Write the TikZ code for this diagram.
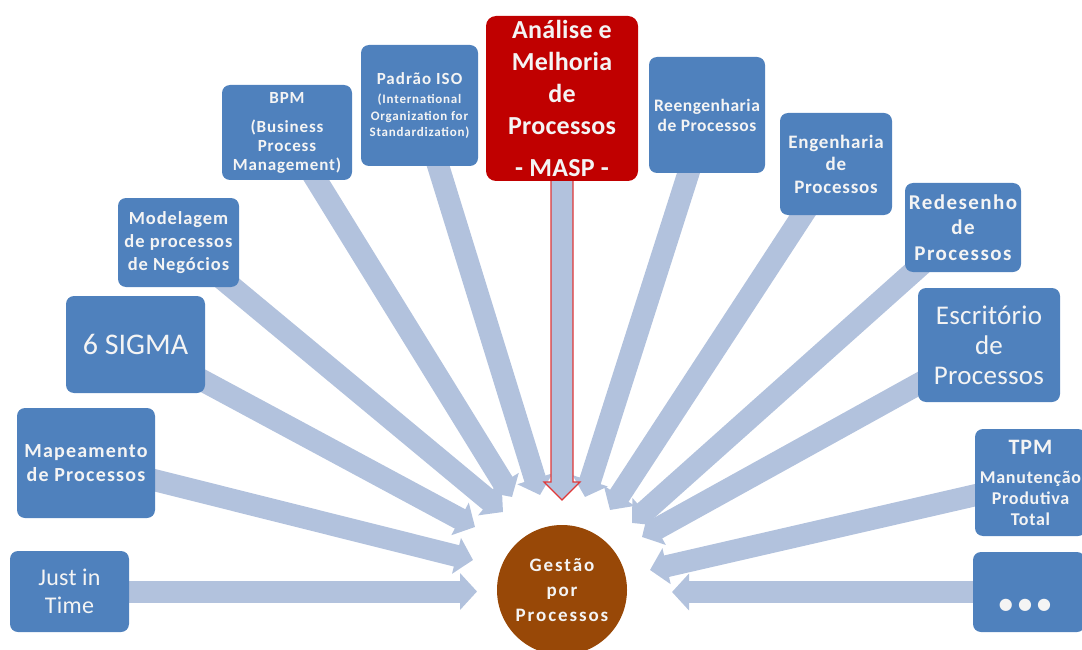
\documentclass[tikz,border=0pt]{standalone}
\usepackage{fontspec}
\setmainfont{Carlito}
\newfontfamily\dejavu{DejaVu Sans}
\usetikzlibrary{arrows.meta,calc}
\definecolor{boxblue}{HTML}{4F81BD}
\definecolor{arrowblue}{HTML}{B2C2DD}
\definecolor{maspred}{HTML}{C00000}
\definecolor{maspline}{HTML}{E03838}
\definecolor{gestbrown}{HTML}{984807}
\definecolor{txt}{HTML}{F4F4F4}
\pgfdeclarelayer{bg}
\pgfsetlayers{bg,main}
\begin{document}
\begin{tikzpicture}[x=1pt,y=-1pt,
  box/.style={fill=boxblue, rounded corners=8pt, text=txt, align=center, inner sep=1pt},
  redbox/.style={fill=maspred, rounded corners=10pt, text=txt, align=center, inner sep=1pt},
  fat/.style={arrowblue, line width=22pt, -{Triangle[length=17pt,width=36pt]}},
  fsz/.style n args={3}{font=\fontsize{#1}{#2}\selectfont\addfontfeature{LetterSpace=#3}},
  bfsz/.style n args={3}{font=\bfseries\fontsize{#1}{#2}\selectfont\addfontfeature{LetterSpace=#3}}
]
\useasboundingbox (0,0) rectangle (1082,650);

% boxes
\node[box, minimum width=119pt, minimum height=81pt, fsz={24}{28}{1}] (jit) at (69.5,591.5) {Just in\\Time};
\node[box, minimum width=138pt, minimum height=110pt, bfsz={20}{24}{6}] (map) at (86,463) {Mapeamento\\de Processos};
\node[box, minimum width=139pt, minimum height=97pt, fsz={30}{34}{0}] (sigma) at (135.5,344.5) {6 SIGMA};
\node[box, minimum width=121pt, minimum height=89pt, bfsz={18.5}{23}{5}] (mod) at (178.5,242.5) {Modelagem\\de processos\\de Negócios};
\node[box, minimum width=130pt, minimum height=95pt, bfsz={17}{19}{5}] (bpm) at (287,132.5) {BPM\\[10pt](Business\\Process\\Management)};
\node[box, minimum width=117pt, minimum height=121pt, bfsz={13}{16.5}{6}] (iso) at (419.5,105.5) {{\fontsize{17}{20}\selectfont Padrão ISO}\\[3pt](International\\Organization for\\Standardization)};
\node[redbox, minimum width=152pt, minimum height=165pt, bfsz={26}{32}{1}] (masp) at (562,98.5) {Análise e\\Melhoria\\de\\Processos\\[10pt]- MASP -};
\node[box, minimum width=116pt, minimum height=116pt, bfsz={17.5}{20}{3}] (reeng) at (707,115) {Reengenharia\\de Processos};
\node[box, minimum width=112pt, minimum height=102pt, bfsz={19}{22.5}{4}] (eng) at (836,164) {Engenharia\\de\\Processos};
\node[box, minimum width=116pt, minimum height=89pt, bfsz={21}{25.5}{7}] (redes) at (963,227.5) {Redesenho\\de\\Processos};
\node[box, minimum width=142pt, minimum height=114pt, fsz={27}{30}{1}] (escr) at (989,345) {Escritório\\de\\Processos};
\node[box, minimum width=111pt, minimum height=107pt, bfsz={18}{21}{4}] (tpm) at (1030.5,482.5) {{\fontsize{22}{24}\selectfont TPM}\\[8pt]Manutenção\\Produtiva\\Total};
\node[box, minimum width=112pt, minimum height=80pt] (dots) at (1029,592) {};
\node[text=txt, font=\dejavu\fontsize{16}{18}\selectfont, inner sep=0pt] (dotstxt) at (1025,605) {● ● ●};

% central circle
\node[circle, fill=gestbrown, minimum size=130pt, text=txt, align=center, inner sep=0pt,
      bfsz={19}{25}{10}] (gp) at (562,590) {Gestão\\por\\Processos};

% arrow tips
\coordinate (tjit) at (477,591.5);
\coordinate (tmap) at (473,560);
\coordinate (tsigma) at (475,527);
\coordinate (tmod) at (503,512);
\coordinate (tbpm) at (512,497);
\coordinate (tiso) at (540,495);
\coordinate (tmasp) at (562,500);
\coordinate (treeng) at (585,497);
\coordinate (teng) at (610,510);
\coordinate (tredes) at (632,523);
\coordinate (tescr) at (642,537);
\coordinate (ttpm) at (650,570);
\coordinate (tdots) at (672,592);

\begin{pgfonlayer}{bg}
\draw[fat] (jit.center) -- (tjit);
\draw[fat] (map.center) -- (tmap);
\draw[fat] (sigma.center) -- (tsigma);
\draw[fat] (mod.center) -- (tmod);
\draw[fat] (bpm.center) -- (tbpm);
\draw[fat] (iso.center) -- (tiso);
\draw[fat] (reeng.center) -- (treeng);
\draw[fat] (eng.center) -- (teng);
\draw[fat] (redes.center) -- (tredes);
\draw[fat] (escr.center) -- (tescr);
\draw[fat] (tpm.center) -- (ttpm);
\draw[fat] (dots.center) -- (tdots);
\draw[maspline, fill=arrowblue, line width=1.2pt, line join=miter]
  ($(masp.south)+(-11,-4)$) -- ($(tmasp)+(-11,-18)$) -- ($(tmasp)+(-18,-18)$) -- (tmasp)
  -- ($(tmasp)+(18,-18)$) -- ($(tmasp)+(11,-18)$) -- ($(masp.south)+(11,-4)$);
\end{pgfonlayer}
\end{tikzpicture}
\end{document}
